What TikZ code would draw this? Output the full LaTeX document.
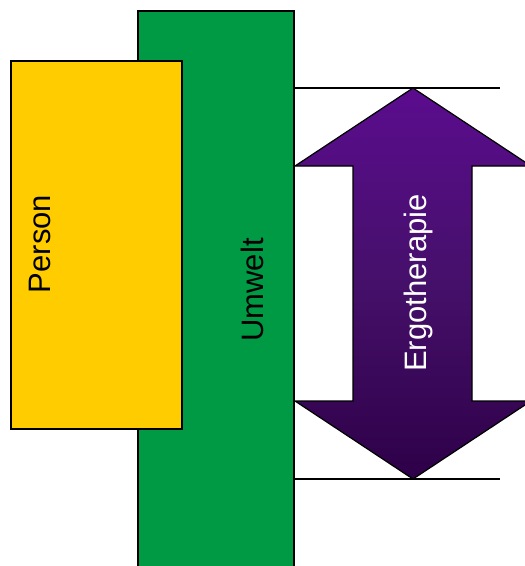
\documentclass[tikz,border=0pt]{standalone}
\usepackage{fontspec}
\setmainfont{Liberation Sans}
\usetikzlibrary{positioning}
\definecolor{personyellow}{HTML}{FFCC00}
\definecolor{umweltgreen}{HTML}{009944}
\definecolor{ergotop}{HTML}{5B0C8E}
\definecolor{ergomid}{HTML}{45106A}
\definecolor{ergobottom}{HTML}{2E0048}
\begin{document}
\begin{tikzpicture}[x=1pt,y=-1pt,
    block/.style={draw=black,line width=1.5pt,inner sep=0pt},
    label/.style={rotate=90,font=\fontsize{31}{37}\selectfont}]
    \useasboundingbox (0,0) rectangle (525,566);
    \clip (0,0) rectangle (525,566);
    % Umwelt and Person
    \node[block,fill=umweltgreen,minimum width=156pt,minimum height=564pt] (umwelt) at (216,293) {};
    \node[block,fill=personyellow,minimum width=171pt,minimum height=368pt] (person) at (96.5,245) {};
    \node[label] (personlabel) at (40,244) {Person};
    \node[label] (umweltlabel) at (252,290) {Umwelt};
    % range lines
    \coordinate (topend) at (500,88);
    \coordinate (bottomend) at (500,479);
    \draw[line width=1.5pt] (umwelt.east |- topend) -- (topend);
    \draw[line width=1.5pt] (umwelt.east |- bottomend) -- (bottomend);
    % Ergotherapie arrow
    \draw[line width=1.2pt,top color=ergotop,bottom color=ergobottom,middle color=ergomid]
      (413,88) -- (531,166) -- (472,166) -- (472,401) -- (531,401) -- (413,479)
      -- (295,401) -- (353,401) -- (353,166) -- (295,166) -- cycle;
    \node[label,text=white] (ergolabel) at (418,283) {Ergotherapie};
 \end{tikzpicture}
\end{document}
